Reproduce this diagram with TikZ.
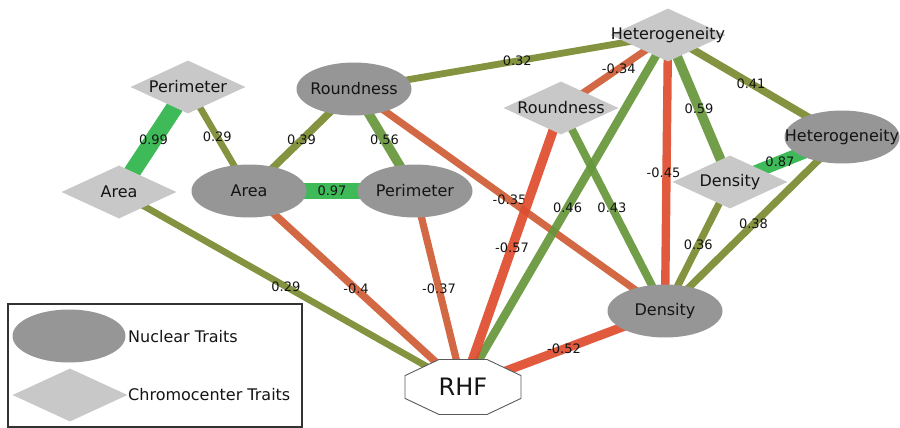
\documentclass[tikz,border=0pt]{standalone}
\usepackage{fontspec}
\setmainfont{DejaVu Sans}
\usetikzlibrary{shapes.geometric,backgrounds}
\definecolor{nucfill}{RGB}{150,150,150}
\definecolor{chrfill}{RGB}{200,200,200}
\definecolor{olv}{RGB}{122,138,48}
\definecolor{grn}{RGB}{102,150,58}
\definecolor{bgrn}{RGB}{46,180,74}
\definecolor{org}{RGB}{206,92,52}
\definecolor{rd}{RGB}{222,76,46}
\definecolor{txt}{RGB}{20,20,20}
\definecolor{rim}{RGB}{90,90,90}
\begin{document}
\begin{tikzpicture}[x=1pt,y=-1pt,
  nlab/.style={font=\fontsize{16}{18}\selectfont, text=txt, inner sep=0pt},
  nuc/.style={ellipse, fill=nucfill, minimum width=115pt, minimum height=53pt, inner sep=0pt},
  chr/.style={diamond, fill=chrfill, minimum width=115pt, minimum height=53pt, inner sep=0pt},
  nucl/.style={nuc, label={[nlab]center:#1}},
  chrl/.style={chr, label={[nlab]center:#1}},
  elab/.style={font=\fontsize{13}{15}\selectfont, text=txt, inner sep=0pt, midway},
  conn/.style={draw=#1, draw opacity=0.92},
]
\useasboundingbox (0,0) rectangle (900,428);

% nodes
\node[chrl=Perimeter] (PC) at (188,87) {};
\node[chrl=Area] (AC) at (119,192) {};
\node[nucl=Area] (AN) at (249,191) {};
\node[nucl=Roundness] (RN) at (354,89) {};
\node[nucl=Perimeter] (PN) at (415,191) {};
\node[chrl=Heterogeneity] (HC) at (668,35) {};
\node[chrl=Roundness] (RC) at (561,108) {};
\node[nucl=Heterogeneity] (HN) at (842,137) {};
\node[chrl=Density] (DC) at (730,182) {};
\node[nucl=Density] (DN) at (665,311) {};
\coordinate (rhfc) at (463,387);
\filldraw[fill=white, draw=rim, line width=0.9pt, shift={(rhfc)}]
  (-24,-27.5) -- (24,-27.5) -- (58,-11.4) -- (58,11.4) -- (24,27.5)
  -- (-24,27.5) -- (-58,11.4) -- (-58,-11.4) -- cycle;
\node[font=\fontsize{24}{26}\selectfont, text=txt, inner sep=0pt] (RHF) at (rhfc) {RHF};

% connectors
\begin{pgfonlayer}{background}
\draw[conn=bgrn, line width=17pt] (PC.center) -- (AC.center) node[elab]{0.99};
\draw[conn=olv, line width=6.6pt] (PC.center) -- (AN.center) node[elab, pos=0.48]{0.29};
\draw[conn=olv, line width=6.6pt] (AC.center) -- (RHF.center) node[elab, pos=0.485]{0.29};
\draw[conn=olv, line width=7.4pt] (AN.center) -- (RN.center) node[elab]{0.39};
\draw[conn=grn, line width=9.4pt] (RN.center) -- (PN.center) node[elab]{0.56};
\draw[conn=bgrn, line width=16.5pt] (AN.center) -- (PN.center) node[elab]{0.97};
\draw[conn=org, line width=7.5pt] (AN.center) -- (RHF.center) node[elab]{-0.4};
\draw[conn=org, line width=7.2pt] (PN.center) -- (RHF.center) node[elab]{-0.37};
\draw[conn=org, line width=7.1pt] (RN.center) -- (DN.center) node[elab]{-0.35};
\draw[conn=olv, line width=6.8pt] (RN.center) -- (HC.center) node[elab, pos=0.52]{0.32};
\draw[conn=org, line width=7pt] (HC.center) -- (RC.center) node[elab, pos=0.46]{-0.34};
\draw[conn=grn, line width=8.4pt] (HC.center) -- (RHF.center) node[elab, pos=0.49]{0.46};
\draw[conn=rd, line width=8.4pt] (HC.center) -- (DN.center) node[elab, xshift=-3pt]{-0.45};
\draw[conn=grn, line width=9.8pt] (HC.center) -- (DC.center) node[elab]{0.59};
\draw[conn=olv, line width=7.6pt] (HC.center) -- (HN.center) node[elab, pos=0.477]{0.41};
\draw[conn=rd, line width=9.5pt] (RC.center) -- (RHF.center) node[elab]{-0.57};
\draw[conn=grn, line width=7.9pt] (RC.center) -- (DN.center) node[elab, pos=0.49]{0.43};
\draw[conn=bgrn, line width=13pt] (DC.center) -- (HN.center) node[elab, pos=0.446]{0.87};
\draw[conn=olv, line width=7.2pt] (DC.center) -- (DN.center) node[elab, pos=0.488]{0.36};
\draw[conn=olv, line width=7.3pt] (HN.center) -- (DN.center) node[elab]{0.38};
\draw[conn=rd, line width=9pt] (DN.center) -- (RHF.center) node[elab]{-0.52};
\end{pgfonlayer}

% legend
\draw[draw=black!80, line width=1.2pt] (8,304) rectangle (302,427);
\node[nuc, minimum width=113pt] (legN) at (69,336) {};
\node[chr] (legC) at (70,395) {};
\node[nlab, anchor=west] (legNt) at (128,337) {Nuclear Traits};
\node[nlab, anchor=west] (legCt) at (128,395) {Chromocenter Traits};
\end{tikzpicture}
\end{document}
